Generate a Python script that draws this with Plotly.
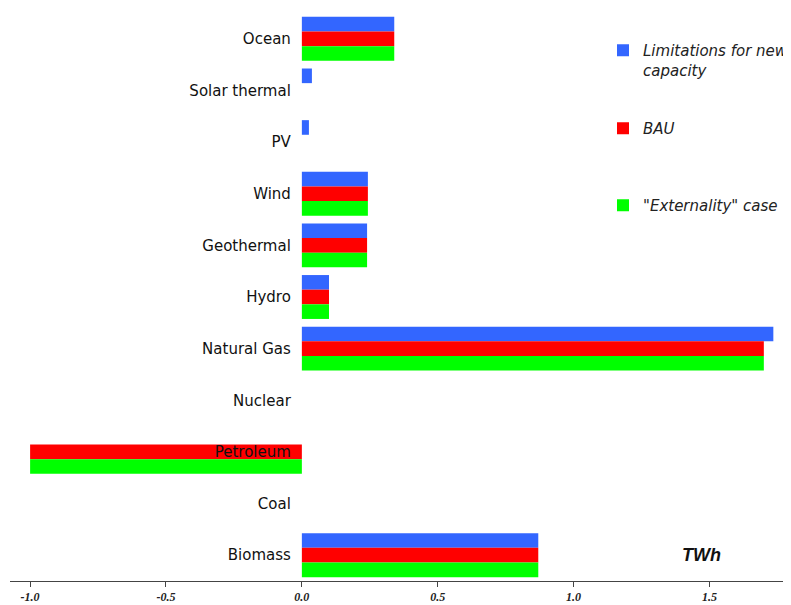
import plotly.graph_objects as go

categories = ["Ocean", "Solar thermal", "PV", "Wind", "Geothermal", "Hydro",
              "Natural Gas", "Nuclear", "Petroleum", "Coal", "Biomass"]

limitations = [0.34, 0.037, 0.026, 0.243, 0.24, 0.1, 1.735, 0, 0, 0, 0.87]
bau = [0.34, 0, 0, 0.243, 0.24, 0.1, 1.70, 0, -1.0, 0, 0.87]
externality = [0.34, 0, 0, 0.243, 0.24, 0.1, 1.70, 0, -1.0, 0, 0.87]

tick_vals = [-1.0, -0.5, 0.0, 0.5, 1.0, 1.5]
tick_text = ["-1.0", "-0.5", "0.0", "0.5", "1.0", "1.5"]

x_min, x_max = -1.074, 1.80

series = [
    ("Limitations for new<br>capacity", limitations, "#3366FF", "legend"),
    ("BAU", bau, "#FF0000", "legend2"),
    ('"Externality" case', externality, "#00FF00", "legend3"),
]

fig = go.Figure()
for name, vals, color, leg in series:
    fig.add_trace(go.Bar(
        y=categories, x=vals, name=name, orientation="h",
        marker=dict(color=color, line=dict(width=0)),
        legend=leg,
    ))

# the page adds 8px body margin, so the figure is sized a bit smaller
W, H = 783, 597
ml, mr, mt, mb = 2, 0, 5, 24
plot_w = W - ml - mr
plot_h = H - mt - mb


def legend_at(px, py):
    # px, py: screen pixel position of the legend's top-left corner
    return dict(
        x=(px - 8 - ml) / plot_w, y=1 - (py - 8 - mt) / plot_h,
        xanchor="left", yanchor="top", valign="top",
        font=dict(family="DejaVu Sans", size=15, color="#222", style="italic"),
        itemwidth=30, bgcolor="rgba(0,0,0,0)",
    )


fig.update_layout(
    width=W, height=H,
    margin=dict(l=ml, r=mr, t=mt, b=mb, autoexpand=False),
    paper_bgcolor="white", plot_bgcolor="white",
    barmode="group", bargap=0.15, bargroupgap=0,
    showlegend=True,
    legend=legend_at(603, 34),
    legend2=legend_at(603, 112),
    legend3=legend_at(603, 189),
    xaxis=dict(
        range=[x_min, x_max], tickvals=tick_vals, ticktext=tick_text,
        showgrid=False, zeroline=False, showline=True, linecolor="#444",
        linewidth=1, ticks="outside", ticklen=5, tickcolor="#444",
        automargin=False,
        tickfont=dict(family="Liberation Serif", size=12, color="#222",
                      weight="bold", style="italic"),
    ),
    yaxis=dict(
        autorange="reversed", showgrid=False, zeroline=False, showline=False,
        anchor="free", position=(0 - x_min) / (x_max - x_min),
        ticks="", ticklabelstandoff=11, automargin=False,
        tickfont=dict(family="DejaVu Sans", size=15, color="#111"),
    ),
)

fig.add_annotation(
    x=1.47, y="Biomass", text="TWh", showarrow=False, xanchor="center",
    font=dict(family="Liberation Sans", size=18, color="#111",
              weight="bold", style="italic"),
)

fig.write_html("out.html")
